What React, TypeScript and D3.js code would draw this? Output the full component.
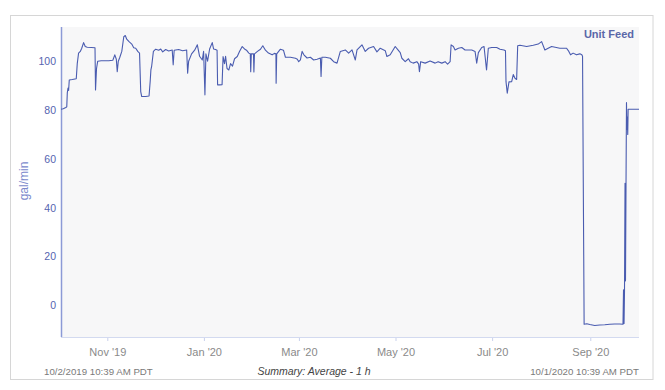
import React from "react";
import * as d3 from "d3";

// hourly-average feed flow
const stamps = [
  "2019-10-02 10:39", "2019-10-03 21:00", "2019-10-05 11:00", "2019-10-06 02:00", "2019-10-06 10:00",
  "2019-10-06 21:00", "2019-10-07 06:00", "2019-10-07 16:00", "2019-10-09 14:00", "2019-10-12 02:00",
  "2019-10-12 17:00", "2019-10-13 13:00", "2019-10-14 15:00", "2019-10-15 13:00", "2019-10-16 17:00",
  "2019-10-17 18:00", "2019-10-19 00:00", "2019-10-21 13:00", "2019-10-23 22:00", "2019-10-24 06:00",
  "2019-10-24 21:00", "2019-10-25 15:00", "2019-10-27 20:00", "2019-11-01 15:00", "2019-11-04 04:00",
  "2019-11-05 10:00", "2019-11-06 09:00", "2019-11-06 23:00", "2019-11-07 15:00", "2019-11-08 13:00",
  "2019-11-09 20:00", "2019-11-11 02:00", "2019-11-12 01:00", "2019-11-12 23:00", "2019-11-14 10:00",
  "2019-11-16 03:00", "2019-11-17 09:00", "2019-11-18 15:00", "2019-11-19 22:00", "2019-11-21 01:00",
  "2019-11-21 19:00", "2019-11-22 10:00", "2019-11-24 23:00", "2019-11-27 01:00", "2019-11-27 19:00",
  "2019-11-28 05:00", "2019-11-28 17:00", "2019-11-29 19:00", "2019-12-01 06:00", "2019-12-03 03:00",
  "2019-12-04 10:00", "2019-12-05 16:00", "2019-12-07 13:00", "2019-12-09 11:00", "2019-12-11 16:00",
  "2019-12-12 07:00", "2019-12-12 22:00", "2019-12-15 18:00", "2019-12-18 06:00", "2019-12-20 19:00",
  "2019-12-21 10:00", "2019-12-22 01:00", "2019-12-23 22:00", "2019-12-25 20:00", "2019-12-27 13:00",
  "2019-12-28 23:00", "2019-12-30 16:00", "2019-12-31 12:00", "2020-01-01 08:00", "2020-01-01 23:00",
  "2020-01-03 00:00", "2020-01-04 07:00", "2020-01-05 23:00", "2020-01-06 19:00", "2020-01-08 01:00",
  "2020-01-09 00:00", "2020-01-09 08:00", "2020-01-10 14:00", "2020-01-12 04:00", "2020-01-12 19:00",
  "2020-01-13 17:00", "2020-01-14 09:00", "2020-01-15 07:00", "2020-01-16 11:00", "2020-01-17 12:00",
  "2020-01-18 18:00", "2020-01-20 01:00", "2020-01-21 18:00", "2020-01-23 04:00", "2020-01-24 21:00",
  "2020-01-26 08:00", "2020-01-27 14:00", "2020-01-29 01:00", "2020-01-29 23:00", "2020-01-30 06:00",
  "2020-01-30 15:00", "2020-02-01 00:00", "2020-02-01 06:00", "2020-02-01 15:00", "2020-02-03 12:00",
  "2020-02-05 10:00", "2020-02-06 21:00", "2020-02-08 13:00", "2020-02-10 11:00", "2020-02-12 19:00",
  "2020-02-14 06:00", "2020-02-15 04:00", "2020-02-15 07:00", "2020-02-15 16:00", "2020-02-18 00:00",
  "2020-02-19 22:00", "2020-02-21 04:00", "2020-02-24 08:00", "2020-02-27 11:00", "2020-02-28 17:00",
  "2020-02-29 13:00", "2020-03-01 15:00", "2020-03-02 17:00", "2020-03-03 20:00", "2020-03-05 20:00",
  "2020-03-07 22:00", "2020-03-10 00:00", "2020-03-12 04:00", "2020-03-14 06:00", "2020-03-14 16:00",
  "2020-03-15 04:00", "2020-03-17 09:00", "2020-03-20 13:00", "2020-03-22 15:00", "2020-03-24 18:00",
  "2020-03-26 20:00", "2020-03-30 00:00", "2020-04-01 02:00", "2020-04-03 05:00", "2020-04-05 07:00",
  "2020-04-06 09:00", "2020-04-09 12:00", "2020-04-11 14:00", "2020-04-13 16:00", "2020-04-16 20:00",
  "2020-04-18 23:00", "2020-04-21 01:00", "2020-04-24 05:00", "2020-04-25 06:00", "2020-04-27 08:00",
  "2020-04-30 12:00", "2020-05-02 09:00", "2020-05-03 16:00", "2020-05-04 17:00", "2020-05-06 19:00",
  "2020-05-08 21:00", "2020-05-09 23:00", "2020-05-11 20:00", "2020-05-14 04:00", "2020-05-15 07:00",
  "2020-05-15 19:00", "2020-05-16 14:00", "2020-05-19 10:00", "2020-05-22 13:00", "2020-05-25 17:00",
  "2020-05-27 14:00", "2020-05-29 22:00", "2020-06-01 00:00", "2020-06-02 14:00", "2020-06-04 04:00",
  "2020-06-04 19:00", "2020-06-06 06:00", "2020-06-07 07:00", "2020-06-09 09:00", "2020-06-11 13:00",
  "2020-06-13 14:00", "2020-06-15 16:00", "2020-06-17 20:00", "2020-06-19 22:00", "2020-06-20 23:00",
  "2020-06-22 00:00", "2020-06-24 03:00", "2020-06-25 14:00", "2020-06-27 04:00", "2020-06-28 07:00",
  "2020-06-30 10:00", "2020-07-03 14:00", "2020-07-05 16:00", "2020-07-08 04:00", "2020-07-09 03:00",
  "2020-07-09 11:00", "2020-07-10 06:00", "2020-07-11 08:00", "2020-07-13 01:00", "2020-07-14 01:00",
  "2020-07-15 03:00", "2020-07-16 04:00", "2020-07-16 20:00", "2020-07-18 06:00", "2020-07-22 12:00",
  "2020-07-26 16:00", "2020-07-29 19:00", "2020-07-31 23:00", "2020-08-03 00:00", "2020-08-05 02:00",
  "2020-08-07 06:00", "2020-08-12 11:00", "2020-08-16 17:00", "2020-08-18 03:00", "2020-08-19 05:00",
  "2020-08-20 20:00", "2020-08-22 23:00", "2020-08-25 02:00", "2020-08-26 08:00", "2020-08-26 19:00",
  "2020-08-27 19:00", "2020-08-29 12:00", "2020-08-31 09:00", "2020-09-03 12:00", "2020-09-06 16:00",
  "2020-09-09 20:00", "2020-09-12 23:00", "2020-09-16 03:00", "2020-09-19 07:00", "2020-09-21 08:00",
  "2020-09-21 16:00", "2020-09-22 00:00", "2020-09-22 07:00", "2020-09-22 15:00", "2020-09-22 22:00",
  "2020-09-23 06:00", "2020-09-23 13:00", "2020-09-23 19:00", "2020-09-24 01:00", "2020-09-24 08:00",
  "2020-09-24 14:00", "2020-10-01 10:39",
];

const flow = [
  80.3, 80.5, 81.0, 81.3, 87, 89, 88, 92.3, 92.5, 92.8,
  99, 103.3, 104, 105.3, 107.6, 106, 105.7, 105.6, 105.5, 88.2,
  97, 100, 100.2, 100.2, 100.4, 102.6, 100.8, 95.7, 100, 101.5,
  104, 110, 110.5, 109, 108, 107, 105.5, 105.3, 104, 103.3,
  87.5, 85.5, 85.5, 85.7, 92, 96.4, 98, 104, 104.9, 104.5,
  105, 103.8, 104.8, 104.2, 104.6, 98.5, 104.5, 104.8, 104.3, 104.6,
  95.1, 100, 103, 104.5, 106.7, 102, 100.5, 104, 86.2, 103,
  100, 105, 107.6, 105, 104.8, 104.5, 90.3, 90.3, 90.4, 101.9,
  99, 102, 97, 96.4, 99, 98, 101, 101.9, 104, 106,
  105, 104.5, 103.3, 103, 95.7, 103, 103, 95.6, 103, 104,
  104.9, 106.3, 104.5, 103.3, 102.6, 103.2, 103, 91, 103, 104.9,
  104.5, 101.6, 101.6, 101.2, 100.8, 99.8, 100.5, 104, 102.6, 101.3,
  101.6, 100.5, 100.8, 101.3, 93.7, 101.6, 101.6, 101.2, 99.8, 99.2,
  104, 104.6, 103.3, 104.6, 100.5, 104.6, 106.7, 104, 105.3, 106,
  103.8, 105.3, 104.3, 101.9, 102.6, 106, 104.5, 103.5, 101.2, 99.8,
  101, 99.8, 99.2, 99.8, 98.8, 95.7, 99.8, 99.2, 100.1, 99.2,
  99.8, 99.2, 99.8, 98.8, 99.8, 106.7, 106, 104.6, 105.3, 105.6,
  104.6, 104.6, 104.6, 104, 99.2, 103.5, 105.6, 106, 96.4, 105.3,
  105.6, 105.6, 104.9, 104.6, 104.3, 91.6, 86.9, 91.5, 91.6, 94.5,
  93, 92.5, 106.3, 106.5, 106, 106.5, 107, 108, 104.6, 105.3,
  106, 105.3, 105.3, 104, 102.6, 103.3, 102.6, 103, 102.6, 102,
  -7.8, -7.6, -7.9, -8.3, -8.1, -8.0, -7.8, -7.7, -7.7, -7.8,
  6.3, -7.5, 6, 50, 10, 50, 83, 72, 77, 70,
  80.3, 80.3,
];

const yTicks = [0, 20, 40, 60, 80, 100];
const startLabel = "10/2/2019 10:39 AM PDT";
const endLabel = "10/1/2020 10:39 AM PDT";
const summaryLabel = "Summary: Average - 1 h";
const seriesName = "Unit Feed";
const unitLabel = "gal/min";

const W = 665;
const H = 390;
const FONT = "'Liberation Sans', Arial, sans-serif";

export default function App() {
  const parse = d3.timeParse("%Y-%m-%d %H:%M");
  const data = stamps.map((s, i) => ({ t: parse(s) as Date, v: flow[i] }));

  const left = 61;
  const right = 639;
  const top = 27;
  const bottom = 337;

  const x = d3
    .scaleTime()
    .domain([parse(stamps[0]) as Date, parse(stamps[stamps.length - 1]) as Date])
    .range([left, right]);
  const y = d3.scaleLinear().domain([-13, 114]).range([bottom, top]);

  const line = d3
    .line<{ t: Date; v: number }>()
    .x((d) => x(d.t))
    .y((d) => y(d.v));

  const xTicks = x.ticks(d3.timeMonth.every(2) as d3.TimeInterval);
  const fmt = d3.timeFormat("%b '%y");

  return (
    <svg
      width={W}
      height={H}
      style={{ position: "absolute", left: 0, top: 0, background: "#fff" }}
      fontFamily={FONT}
    >
      <rect x={10.5} y={15.5} width={642.5} height={364} fill="#fff" stroke="#d6d6d6" />
      <rect x={left} y={top} width={right - left} height={bottom - top} fill="#f7f7f8" />

      {/* bottom axis */}
      <line x1={left} x2={right} y1={bottom + 0.5} y2={bottom + 0.5} stroke="#d3daf0" />
      {xTicks.map((t, i) => (
        <g key={i} transform={`translate(${x(t)},0)`}>
          <line y1={bottom + 1} y2={bottom + 4} stroke="#c9d1ec" />
          <text y={356} textAnchor="middle" fontSize={11} fill="#8a8a8a">
            {fmt(t)}
          </text>
        </g>
      ))}

      {/* left axis */}
      <line x1={left + 0.5} x2={left + 0.5} y1={top} y2={bottom} stroke="#8c9ad6" strokeWidth={1.5} />
      {yTicks.map((v) => (
        <text key={v} x={56} y={y(v) + 4} textAnchor="end" fontSize={10.5} fill="#5564b0">
          {v}
        </text>
      ))}
      <text
        transform="translate(28,181) rotate(-90)"
        textAnchor="middle"
        fontSize={12}
        fill="#7a88cc"
      >
        {unitLabel}
      </text>

      <path d={line(data) || ""} fill="none" stroke="#4a5cb0" strokeWidth={1.1} strokeLinejoin="round" />

      <text x={634} y={38} textAnchor="end" fontSize={11} fontWeight="bold" fill="#5a67a8">
        {seriesName}
      </text>

      <text x={44} y={375} fontSize={9.7} fill="#7a7a7a">
        {startLabel}
      </text>
      <text x={314} y={375} textAnchor="middle" fontSize={10.5} fontStyle="italic" fill="#444">
        {summaryLabel}
      </text>
      <text x={639} y={375} textAnchor="end" fontSize={9.7} fill="#7a7a7a">
        {endLabel}
      </text>
    </svg>
  );
}
